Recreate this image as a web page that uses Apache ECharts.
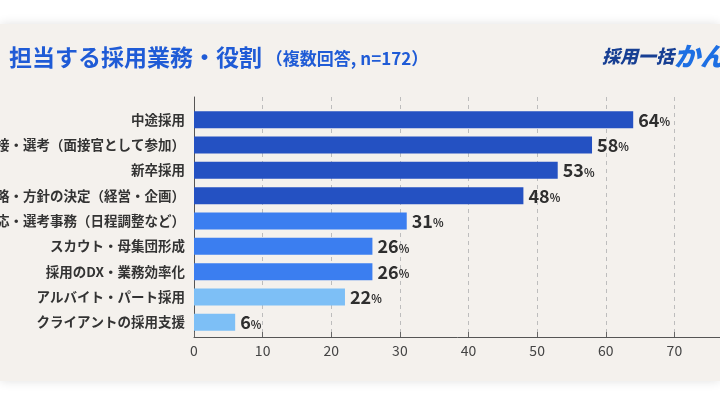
<!DOCTYPE html>
<html>
<head>
<meta charset="utf-8">
<script src="https://cdn.jsdelivr.net/npm/echarts@6/dist/echarts.min.js"></script>
<style>
  html, body { margin: 0; padding: 0; background: #ffffff; }
  .card {
    position: absolute; left: 0; top: 24px; width: 720px; height: 357px;
    background: #f4f1ed;
    box-shadow: 0 0 10px rgba(0, 0, 0, 0.12);
  }
  #chart { position: absolute; left: 0; top: 0; width: 720px; height: 405px; }
</style>
</head>
<body>
<div class="card"></div>
<div id="chart"></div>
<script>
const categories = [
  '中途採用',
  '面接・選考（面接官として参加）',
  '新卒採用',
  '採用戦略・方針の決定（経営・企画）',
  '応募者対応・選考事務（日程調整など）',
  'スカウト・母集団形成',
  '採用のDX・業務効率化',
  'アルバイト・パート採用',
  'クライアントの採用支援'
]
const values = [64, 58, 53, 48, 31, 26, 26, 22, 6]
const xTicks = [0, 10, 20, 30, 40, 50, 60, 70, 80]

const FONT = 'Noto Sans CJK JP'

// 回答率で色分け
function barColor(v) {
  if (v >= 40) return '#2451c2'
  if (v >= 25) return '#3b7ef0'
  return '#7dbff6'
}

const chart = echarts.init(document.getElementById('chart'), null, { renderer: 'canvas' })

const option = {
  backgroundColor: 'transparent',
  textStyle: { fontFamily: FONT },
  animation: false,
  title: {
    left: 4,
    top: 41,
    text: '{a|担当する採用業務・役割}{b| （複数回答, n=172）}',
    textStyle: {
      rich: {
        a: { fontFamily: FONT, fontSize: 23, fontWeight: 'bold', color: '#1f5bd6' },
        b: { fontFamily: FONT, fontSize: 17, fontWeight: 'bold', color: '#1f5bd6', padding: [2, 0, 0, 0] }
      }
    }
  },
  graphic: [
    {
      type: 'text',
      left: 602,
      top: 43,
      style: {
        text: '{a|採用一括}{b|かん}',
        rich: {
          a: { fontFamily: FONT, fontSize: 18, fontWeight: 900, fontStyle: 'italic', fill: '#173f93' },
          b: { fontFamily: FONT, fontSize: 26, fontWeight: 900, fontStyle: 'italic', fill: '#1d6fe3' }
        }
      }
    }
  ],
  grid: [
    { left: 194, width: 549, top: 97, height: 240, outerBoundsMode: 'none', containLabel: false },
    { left: 194, width: 549, top: 107, height: 228, outerBoundsMode: 'none', containLabel: false }
  ],
  xAxis: [
    {
      gridIndex: 0,
      type: 'value',
      min: 0,
      max: 80,
      interval: 10,
      axisLine: { show: true, lineStyle: { color: '#555', width: 1 } },
      axisTick: { show: true, inside: true, length: 5, lineStyle: { color: '#666' } },
      splitLine: { show: true, lineStyle: { color: '#bdbdbd', type: [4, 4], width: 1 } },
      axisLabel: {
        color: '#444', fontSize: 14, margin: 7, fontFamily: FONT,
        formatter: v => (xTicks.includes(v) ? String(v) : '')
      }
    },
    {
      gridIndex: 1,
      type: 'value',
      min: 0,
      max: 80,
      show: false
    }
  ],
  yAxis: [
    {
      gridIndex: 0,
      type: 'value',
      min: 0,
      max: 1,
      axisLine: { show: true, lineStyle: { color: '#555', width: 1 } },
      axisTick: { show: false },
      axisLabel: { show: false },
      splitLine: { show: false }
    },
    {
      gridIndex: 1,
      type: 'category',
      inverse: true,
      data: categories,
      axisLine: { show: false },
      axisTick: { show: false },
      axisLabel: {
        color: '#333', fontSize: 13.5, fontWeight: 'bold', margin: 9, fontFamily: FONT
      }
    }
  ],
  series: [
    {
      type: 'bar',
      xAxisIndex: 1,
      yAxisIndex: 1,
      barWidth: 17,
      data: values.map(v => ({ value: v, itemStyle: { color: barColor(v) } })),
      label: {
        show: true,
        position: 'right',
        distance: 5,
        formatter: p => `{n|${p.value}}{p|%}`,
        rich: {
          n: { fontFamily: FONT, fontSize: 18, fontWeight: 'bold', color: '#2e2e2e' },
          p: { fontFamily: FONT, fontSize: 11, fontWeight: 'bold', color: '#2e2e2e', padding: [4, 0, 0, 0] }
        }
      }
    }
  ]
}

chart.setOption(option)
</script>
</body>
</html>
